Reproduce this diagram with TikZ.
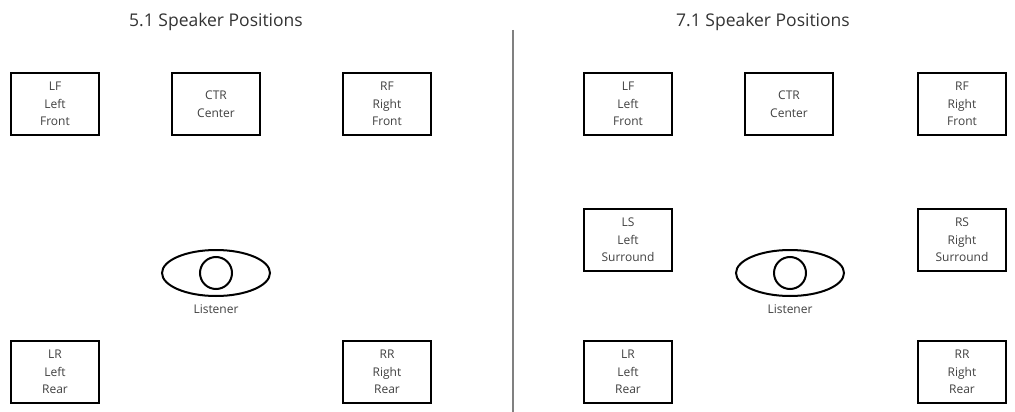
\documentclass[tikz,border=0pt]{standalone}
\usepackage{fontspec}
\setmainfont{Open Sans}
\usetikzlibrary{shapes.geometric}
\begin{document}
\begin{tikzpicture}[x=1pt,y=-1pt,
  spk/.style={draw,line width=2pt,minimum width=88pt,minimum height=62pt,align=center,inner sep=1pt,font=\fontsize{12}{17.5}\selectfont,text=black!75},
  ttl/.style={font=\fontsize{17.5}{20}\selectfont,text=black!80},
  lbl/.style={font=\fontsize{12}{14}\selectfont,text=black!75}]
\useasboundingbox (0,0) rectangle (1015,412);
\node[ttl] (t1) at (216,22) {5.1 Speaker Positions};
\node[ttl] (t2) at (763,22) {7.1 Speaker Positions};
\draw[gray,line width=1.2pt] (513,30) -- (513,412);
% left
\node[spk] (lf1) at (55,104) {LF\\Left\\Front};
\node[spk] (ctr1) at (216,104) {CTR\\Center};
\node[spk] (rf1) at (387,104) {RF\\Right\\Front};
\node[spk] (lr1) at (55,372) {LR\\Left\\Rear};
\node[spk] (rr1) at (387,372) {RR\\Right\\Rear};
\node[draw,ellipse,line width=2pt,minimum width=108pt,minimum height=46pt] (e1) at (216,273) {};
\node[draw,circle,line width=2pt,minimum size=32pt] (c1) at (216,273) {};
\node[lbl] (l1) at (216,309) {Listener};
% right
\node[spk] (lf2) at (628,104) {LF\\Left\\Front};
\node[spk] (ctr2) at (789,104) {CTR\\Center};
\node[spk] (rf2) at (962,104) {RF\\Right\\Front};
\node[spk] (ls2) at (628,240) {LS\\Left\\Surround};
\node[spk] (rs2) at (962,240) {RS\\Right\\Surround};
\node[spk] (lr2) at (628,372) {LR\\Left\\Rear};
\node[spk] (rr2) at (962,372) {RR\\Right\\Rear};
\node[draw,ellipse,line width=2pt,minimum width=108pt,minimum height=46pt] (e2) at (790,273) {};
\node[draw,circle,line width=2pt,minimum size=32pt] (c2) at (790,273) {};
\node[lbl] (l2) at (790,309) {Listener};
\end{tikzpicture}
\end{document}
